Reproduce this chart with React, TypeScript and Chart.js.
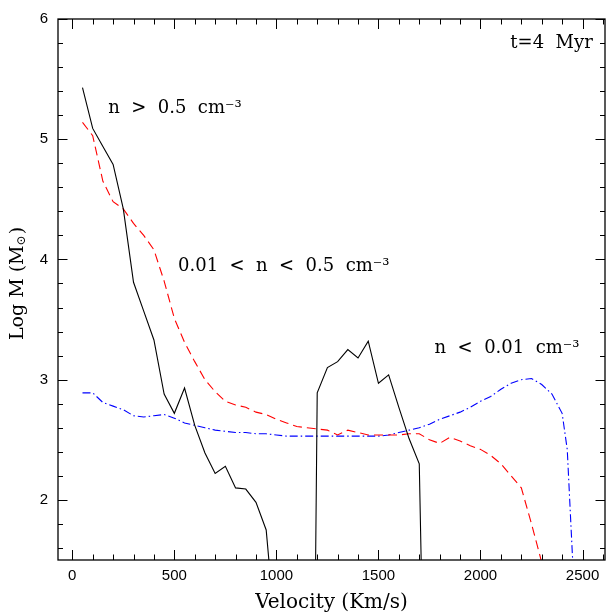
import React, { useEffect, useRef } from 'react';
import { Chart, registerables } from 'chart.js';

Chart.register(...registerables);

// n > 0.5 cm^-3 (solid black)
const blackVelocity = [50, 100, 150, 200, 250, 300, 350, 400, 450, 500, 550, 600, 650, 700, 750, 800, 850, 900, 950, 1000, 1050, 1100, 1150, 1200, 1250, 1300, 1350, 1400, 1450, 1500, 1550, 1600, 1650, 1700, 1750];
const blackLogM = [5.43, 5.09, 4.94, 4.79, 4.42, 3.81, 3.57, 3.33, 2.88, 2.72, 2.93, 2.62, 2.39, 2.22, 2.28, 2.10, 2.09, 1.98, 1.75, 0.8, null, null, -6, 2.89, 3.10, 3.15, 3.25, 3.18, 3.32, 2.97, 3.04, 2.77, 2.51, 2.30, -2];

// 0.01 < n < 0.5 cm^-3 (dashed red)
const redVelocity = [50, 100, 150, 200, 250, 300, 350, 400, 450, 500, 550, 600, 650, 700, 750, 800, 850, 900, 950, 1000, 1050, 1100, 1150, 1200, 1250, 1300, 1350, 1400, 1450, 1500, 1550, 1600, 1650, 1700, 1750, 1800, 1850, 1900, 1950, 2000, 2050, 2100, 2150, 2200, 2250, 2300, 2350];
const redLogM = [5.14, 5.03, 4.65, 4.48, 4.42, 4.30, 4.20, 4.08, 3.82, 3.51, 3.31, 3.15, 3.00, 2.90, 2.82, 2.79, 2.77, 2.73, 2.71, 2.67, 2.64, 2.61, 2.60, 2.59, 2.58, 2.54, 2.58, 2.56, 2.54, 2.54, 2.54, 2.54, 2.55, 2.55, 2.50, 2.47, 2.52, 2.49, 2.45, 2.42, 2.37, 2.30, 2.20, 2.10, 1.80, 1.48, 1.0];

// n < 0.01 cm^-3 (dash-dot blue)
const blueVelocity = [50, 100, 150, 200, 250, 300, 350, 400, 450, 500, 550, 600, 650, 700, 750, 800, 850, 900, 950, 1000, 1050, 1100, 1150, 1200, 1250, 1300, 1350, 1400, 1450, 1500, 1550, 1600, 1650, 1700, 1750, 1800, 1850, 1900, 1950, 2000, 2050, 2100, 2150, 2200, 2250, 2300, 2350, 2400, 2425, 2450, 2475];
const blueLogM = [2.89, 2.89, 2.81, 2.78, 2.75, 2.70, 2.69, 2.70, 2.71, 2.68, 2.64, 2.62, 2.60, 2.58, 2.57, 2.56, 2.56, 2.55, 2.55, 2.54, 2.53, 2.53, 2.53, 2.53, 2.53, 2.53, 2.53, 2.53, 2.53, 2.53, 2.54, 2.56, 2.58, 2.60, 2.63, 2.67, 2.70, 2.73, 2.77, 2.82, 2.86, 2.92, 2.97, 3.00, 3.01, 2.96, 2.88, 2.72, 2.42, 1.55, 0.8];

const xTickValues = [0, 500, 1000, 1500, 2000, 2500];
const yTickValues = [2, 3, 4, 5, 6];
const xAxisTitle = 'Velocity (Km/s)';
const yAxisTitleMain = 'Log M (M';
const yAxisTitleSub = '\u2299';
const yAxisTitleEnd = ')';

const annotationTexts = ['n  >  0.5  cm\u207B\u00B3', '0.01  <  n  <  0.5  cm\u207B\u00B3', 'n  <  0.01  cm\u207B\u00B3', 't=4  Myr'];
const annotationX = [176, 518, 1775, 2550];
const annotationY = [5.256, 3.94, 3.26, 5.8];
const annotationAlign = ['left', 'left', 'left', 'right'];

const SERIF = '"DejaVu Serif", "Liberation Serif", serif';
const SANS = '"Liberation Sans", Arial, sans-serif';

const toPoints = (xs: number[], ys: (number | null)[]) => xs.map((v, i) => ({ x: v, y: ys[i] }));

const framePlugin = {
  id: 'framePlugin',
  afterDraw(chart: any) {
    const { ctx, chartArea: a } = chart;
    const xs = chart.scales.x;
    const ys = chart.scales.y;
    ctx.save();
    ctx.strokeStyle = '#000';
    ctx.lineWidth = 1.3;
    ctx.strokeRect(a.left, a.top, a.right - a.left, a.bottom - a.top);
    ctx.lineWidth = 1;
    ctx.beginPath();
    for (let k = 0; k <= 26; k++) {
      const v = k * 100;
      const px = Math.round(xs.getPixelForValue(v)) + 0.5;
      if (px <= a.left || px >= a.right) continue;
      const len = k % 5 === 0 ? 10 : 5.5;
      ctx.moveTo(px, a.bottom);
      ctx.lineTo(px, a.bottom - len);
      ctx.moveTo(px, a.top);
      ctx.lineTo(px, a.top + len);
    }
    for (let k = 8; k <= 30; k++) {
      const v = k / 5;
      const py = Math.round(ys.getPixelForValue(v)) + 0.5;
      if (py <= a.top || py >= a.bottom) continue;
      const len = k % 5 === 0 ? 9.5 : 5;
      ctx.moveTo(a.left, py);
      ctx.lineTo(a.left + len, py);
      ctx.moveTo(a.right, py);
      ctx.lineTo(a.right - len, py);
    }
    ctx.stroke();

    // annotations
    ctx.fillStyle = '#000';
    ctx.font = '18px ' + SERIF;
    ctx.textBaseline = 'middle';
    annotationTexts.forEach((t, i) => {
      ctx.textAlign = annotationAlign[i] as CanvasTextAlign;
      ctx.fillText(t, xs.getPixelForValue(annotationX[i]), ys.getPixelForValue(annotationY[i]));
    });

    // y axis title with subscript sun symbol
    ctx.save();
    const cy = (a.top + a.bottom) / 2 - 6;
    ctx.translate(18, cy);
    ctx.rotate(-Math.PI / 2);
    ctx.textAlign = 'left';
    ctx.textBaseline = 'middle';
    const mainFont = '19px ' + SERIF;
    const subFont = '12px ' + SERIF;
    ctx.font = mainFont;
    const w1 = ctx.measureText(yAxisTitleMain).width;
    const w3 = ctx.measureText(yAxisTitleEnd).width;
    ctx.font = subFont;
    const w2 = ctx.measureText(yAxisTitleSub).width;
    const total = w1 + w2 + w3 + 1;
    let xx = -total / 2;
    ctx.font = mainFont;
    ctx.fillText(yAxisTitleMain, xx, 0);
    xx += w1;
    ctx.font = subFont;
    ctx.fillText(yAxisTitleSub, xx, 4);
    xx += w2 + 1;
    ctx.font = mainFont;
    ctx.fillText(yAxisTitleEnd, xx, 0);
    ctx.restore();

    ctx.restore();
  },
};

export default function App() {
  const ref = useRef<HTMLCanvasElement>(null);
  useEffect(() => {
    if (!ref.current) return;
    const chart = new Chart(ref.current, {
      type: 'line',
      data: {
        datasets: [
          {
            data: toPoints(blackVelocity, blackLogM),
            borderColor: '#000000',
            borderWidth: 1.1,
            pointRadius: 0,
            spanGaps: false,
          },
          {
            data: toPoints(redVelocity, redLogM),
            borderColor: '#ff0000',
            borderWidth: 1.1,
            borderDash: [9, 5],
            pointRadius: 0,
          },
          {
            data: toPoints(blueVelocity, blueLogM),
            borderColor: '#0000ff',
            borderWidth: 1.1,
            borderDash: [8, 3, 1.5, 3],
            pointRadius: 0,
          },
        ],
      } as any,
      options: {
        responsive: false,
        animation: false,
        layout: { padding: { top: 10, right: 3, left: 0, bottom: 0 } },
        plugins: { legend: { display: false }, tooltip: { enabled: false } },
        elements: { line: { tension: 0 }, point: { radius: 0 } },
        scales: {
          x: {
            type: 'linear',
            min: -70,
            max: 2610,
            grid: { display: false, drawTicks: false },
            border: { display: false },
            afterBuildTicks: (s: any) => {
              s.ticks = xTickValues.map((v) => ({ value: v }));
            },
            afterFit: (s: any) => {
              s.height = 56;
            },
            ticks: {
              font: { family: SANS, size: 15 },
              color: '#000',
              padding: 7,
              maxRotation: 0,
              autoSkip: false,
              callback: (v: any) => String(v),
            },
            title: {
              display: true,
              text: xAxisTitle,
              font: { family: SERIF, size: 20 },
              color: '#000',
              padding: { top: 0, bottom: 1 },
            },
          },
          y: {
            type: 'linear',
            min: 1.5,
            max: 6,
            grid: { display: false, drawTicks: false },
            border: { display: false },
            afterBuildTicks: (s: any) => {
              s.ticks = yTickValues.map((v) => ({ value: v }));
            },
            afterFit: (s: any) => {
              s.width = 58;
            },
            ticks: {
              font: { family: SANS, size: 15 },
              color: '#000',
              padding: 10,
              autoSkip: false,
              callback: (v: any) => String(v),
            },
            title: { display: false },
          },
        },
      } as any,
      plugins: [framePlugin],
    });
    return () => chart.destroy();
  }, []);
  return (
    <div style={{ position: 'absolute', left: 0, top: 0, width: 608, height: 616, background: '#fff' }}>
      <canvas ref={ref} width={608} height={616} style={{ display: 'block', width: 608, height: 616 }} />
    </div>
  );
}
